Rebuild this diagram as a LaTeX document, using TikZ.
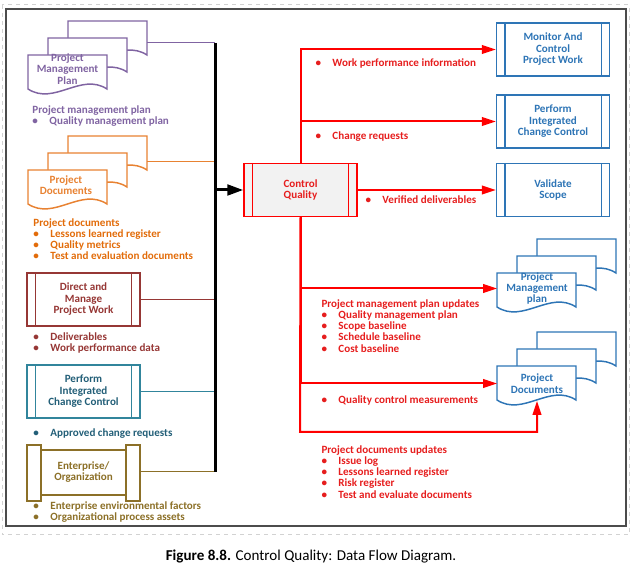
\documentclass[tikz,border=0pt]{standalone}
\usepackage{fontspec}
\setmainfont{Carlito}
\usetikzlibrary{arrows.meta}

\definecolor{pmpurple}{RGB}{128,100,162}
\definecolor{pdorange}{RGB}{232,130,50}
\definecolor{pdotext}{RGB}{226,108,10}
\definecolor{dmbrown}{RGB}{150,55,53}
\definecolor{icteal}{RGB}{49,133,156}
\definecolor{ictext}{RGB}{35,95,120}
\definecolor{eeolive}{RGB}{140,112,40}
\definecolor{cqred}{RGB}{255,0,0}
\definecolor{cqtext}{RGB}{230,30,30}
\definecolor{outblue}{RGB}{46,117,182}
\definecolor{cqfill}{RGB}{242,242,242}

\newcommand\lblfont{\fontsize{8.3}{8.4}\selectfont\bfseries}
\newcommand\boxfont{\fontsize{8.3}{8.6}\selectfont\bfseries}
\newcommand\bl{\makebox[12.75pt][l]{\textbullet}}

% one page of a document stack: colour, left, top
\newcommand\docpage[3]{\draw [#1, line width=1.1pt, fill=white] (#2,#3) -- (#2+79,#3) -- (#2+79,#3+34) .. controls (#2+53,#3+17) and (#2+26,#3+51) .. (#2,#3+34) -- cycle ;}
\newcommand\docstack[3]{\docpage{#1}{#2+40}{#3-34}\docpage{#1}{#2+20}{#3-17}\docpage{#1}{#2}{#3}}
% the two inner bars of a sub-process box
\newcommand\bars[2]{\draw [#2, line width=1.1pt] ([xshift=6.75pt]#1.north west) -- ([xshift=6.75pt]#1.south west) ([xshift=-6.75pt]#1.north east) -- ([xshift=-6.75pt]#1.south east) ;}

\tikzset{every picture/.style={line width=0.75pt}}
\tikzset{
  procbox/.style={draw, line width=1.1pt, fill=white, minimum width=84.75pt, minimum height=39.75pt, align=center, inner sep=0pt, font=\boxfont},
  lbl/.style={anchor=north west, inner sep=0pt, align=left, font=\lblfont},
  doctext/.style={anchor=north west, minimum width=59.25pt, minimum height=25.5pt, inner sep=0pt, align=center, font=\boxfont},
  redflow/.style={draw=cqred, line width=1.5pt, -{Triangle[length=10.5pt,width=6.5pt]}},
}

\begin{document}
\begin{tikzpicture}[x=0.75pt,y=0.75pt,yscale=-1,xscale=1]
\useasboundingbox (0,0) rectangle (633,570);

%Frame
\draw [gray!35, dashed] (2,5) rectangle (629,535);
\draw [black!70, line width=1.5pt] (6,9) rectangle (626,526);

%Shape: Document stacks (inputs)
\docstack{pmpurple}{28}{55}
\docstack{pdorange}{28}{170}
% Text Node
\draw (67.5,69) node (pmpin) [align=center, font=\boxfont, text=pmpurple, inner sep=0pt] {Project\\Management\\Plan};
% Text Node
\draw (66,185) node (pdin) [align=center, font=\boxfont, text=pdorange, inner sep=0pt] {Project\\Documents};

%Shape: Sub-process boxes (inputs)
\draw (83.5,299.5) node (dmpw) [procbox, draw=dmbrown, text=dmbrown] {Direct and\\Manage\\Project Work};
\bars{dmpw}{dmbrown}
\draw (83.5,391.5) node (icin) [procbox, draw=icteal, text=ictext] {Perform\\Integrated\\Change Control};
\bars{icin}{icteal}

%Shape: Enterprise scroll
\draw [eeolive, line width=1.1pt, fill=white] (41,450) rectangle (126,495);
\draw [eeolive, line width=1.1pt, fill=white] (27,445) rectangle (41,501);
\draw [eeolive, line width=1.1pt, fill=white] (126,445) rectangle (140,501);
\draw (83.5,472) node (ent) [minimum width=84.75pt, inner sep=0pt, align=center, font=\boxfont, text=eeolive] {Enterprise/\\Organization};

% Text Node
\draw (32,105) node [lbl, text=pmpurple] {Project management plan\\\bl Quality management plan};
% Text Node
\draw (33,218) node [lbl, text=pdotext] {Project documents\\\bl Lessons learned register\\\bl Quality metrics\\\bl Test and evaluation documents};
% Text Node
\draw (33,332) node [lbl, text=dmbrown] {\bl Deliverables\\\bl Work performance data};
% Text Node
\draw (33,428) node [lbl, text=ictext] {\bl Approved change requests};
% Text Node
\draw (33,501) node [lbl, text=eeolive] {\bl Enterprise environmental factors\\\bl Organizational process assets};

%Straight Lines: feeds into the bus
\coordinate (bustop) at (215,43);
\coordinate (pmpfeed) at (147,43);
\coordinate (pdfeed) at (147,162);
\coordinate (busbot) at (ent.east -| bustop);
\draw [pmpurple] (pmpfeed) -- (pmpfeed -| bustop);
\draw [pdorange] (pdfeed) -- (pdfeed -| bustop);
\draw [dmbrown] (dmpw.east) -- (dmpw.east -| bustop);
\draw [icteal] (icin.east) -- (icin.east -| bustop);
\draw [eeolive] (ent.east) -- (busbot);
\draw [line width=2.25pt] (bustop) -- (busbot);

%Control Quality
\draw (300.5,190) node (cq) [procbox, draw=cqred, fill=cqfill, text=cqtext] {Control\\Quality};
\bars{cq}{cqred}
\draw [line width=2.25pt, -{Triangle[length=12pt,width=8pt]}] (bustop |- cq.west) -- (cq.west);

%Shape: Sub-process boxes (outputs)
\draw (553,49.5) node (mcpw) [procbox, draw=outblue, text=outblue] {Monitor And\\Control\\Project Work};
\bars{mcpw}{outblue}
\draw (553,121.5) node (icout) [procbox, draw=outblue, text=outblue] {Perform\\Integrated\\Change Control};
\bars{icout}{outblue}
\draw (553,190) node (vs) [procbox, draw=outblue, text=outblue] {Validate\\Scope};
\bars{vs}{outblue}

%Shape: Document stacks (outputs)
\docstack{outblue}{497}{273}
\docstack{outblue}{497}{366}
\draw (497,271) node (pmpout) [doctext, text=outblue] {Project\\Management\\plan};
\draw (497,366) node (pdout) [doctext, text=outblue] {Project\\Documents};

%Straight Lines: outputs
\coordinate (pdloop) at (300,432);
\draw [redflow] (cq.north) |- (mcpw.west);
\draw [redflow] (cq.north) |- (icout.west);
\draw [redflow] (cq.east) -- (vs.west);
\draw [redflow] (cq.south) |- (pmpout.west);
\draw [redflow] (cq.south) |- (pdout.west);
\draw [redflow] (cq.south) -- (pdloop) -| (pdout.south);

% Text Node
\draw (315,58) node [lbl, text=cqtext] {\bl Work performance information};
% Text Node
\draw (315,131) node [lbl, text=cqtext] {\bl Change requests};
% Text Node
\draw (365,195) node [lbl, text=cqtext] {\bl Verified deliverables};
% Text Node
\draw (321,299) node [lbl, text=cqtext] {Project management plan updates\\\bl Quality management plan\\\bl Scope baseline\\\bl Schedule baseline\\\bl Cost baseline};
% Text Node
\draw (321,395) node [lbl, text=cqtext] {\bl Quality control measurements};
% Text Node
\draw (321,445) node [lbl, text=cqtext] {Project documents updates\\\bl Issue log\\\bl Lessons learned register\\\bl Risk register\\\bl Test and evaluate documents};

% Text Node
\draw (311,557) node (caption) [font=\fontsize{11.3}{13}\selectfont] {\textbf{Figure 8.8.} Control Quality: Data Flow Diagram.};

\end{tikzpicture}
\end{document}
